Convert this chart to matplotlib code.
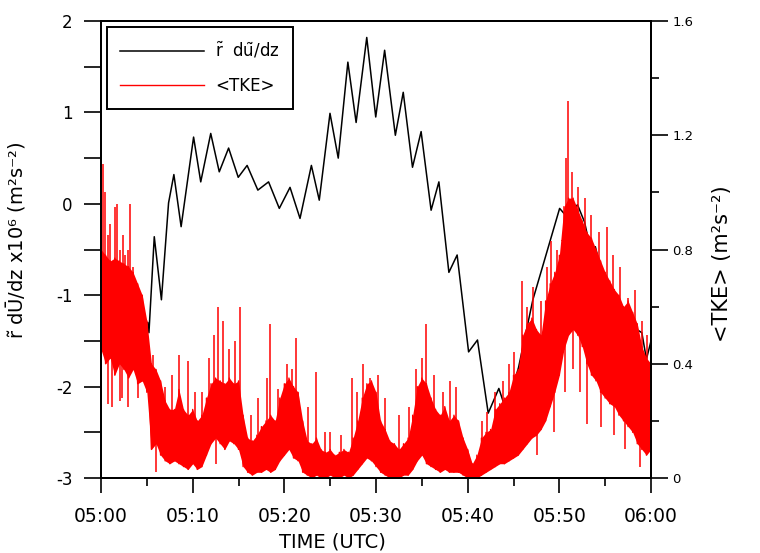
import numpy as np
import matplotlib.pyplot as plt
from matplotlib.ticker import MultipleLocator, FuncFormatter

plt.rcParams['font.family'] = ['DejaVu Sans']
plt.rcParams['mathtext.fontset'] = 'dejavusans'
plt.rcParams['axes.unicode_minus'] = False

# minutes after 05:00 UTC
shear_t = [5.1, 5.23, 5.81, 6.59, 7.37, 7.95, 8.74, 10.10, 10.88, 11.97, 12.90, 13.92,
           14.97, 15.94, 17.11, 18.28, 19.45, 20.62, 21.71, 22.95, 23.81, 24.98, 25.88,
           26.93, 27.83, 28.99, 29.97, 30.94, 32.11, 32.97, 33.98, 34.92, 36.01, 36.86,
           37.95, 38.85, 40.10, 41.07, 42.24, 43.40, 44.19, 45.55, 47.11, 48.28, 50.03,
           50.81, 51.98, 52.75, 53.34, 53.93, 54.90, 56.07, 57.24, 58.21, 59.0, 59.5, 60.0]
shear_v = [-1.30, -1.41, -0.36, -1.05, 0.01, 0.32, -0.25, 0.73, 0.24, 0.77, 0.35, 0.61,
           0.29, 0.42, 0.15, 0.24, -0.05, 0.18, -0.16, 0.42, 0.04, 0.99, 0.50,
           1.55, 0.89, 1.82, 0.95, 1.68, 0.75, 1.22, 0.40, 0.79, -0.07, 0.24,
           -0.75, -0.56, -1.62, -1.49, -2.29, -2.02, -2.26, -1.79, -1.05, -0.65, -0.05,
           -0.14, -0.01, -0.20, -0.47, -0.47, -0.87, -1.09, -1.63, -1.36, -1.41, -1.70, -1.50]

# TKE band read every half minute: upper and lower edge of the noisy trace
tke_t = np.arange(0, 60.5, 0.5)
tke_high = [0.80, 0.78, 0.76, 0.77, 0.76, 0.75, 0.74, 0.72, 0.68, 0.64,
            0.55, 0.40, 0.38, 0.34, 0.27, 0.24, 0.24, 0.31, 0.24, 0.22,
            0.24, 0.20, 0.22, 0.28, 0.33, 0.35, 0.34, 0.33, 0.35, 0.33,
            0.34, 0.22, 0.14, 0.13, 0.15, 0.18, 0.20, 0.22, 0.20, 0.28,
            0.33, 0.35, 0.32, 0.30, 0.20, 0.13, 0.12, 0.14, 0.10, 0.09,
            0.10, 0.08, 0.09, 0.10, 0.09, 0.14, 0.20, 0.28, 0.33, 0.34,
            0.30, 0.20, 0.17, 0.13, 0.12, 0.10, 0.12, 0.14, 0.22, 0.32,
            0.35, 0.33, 0.28, 0.24, 0.22, 0.25, 0.20, 0.22, 0.20, 0.14,
            0.10, 0.05, 0.08, 0.14, 0.16, 0.17, 0.24, 0.26, 0.28, 0.30,
            0.36, 0.38, 0.50, 0.54, 0.56, 0.52, 0.50, 0.62, 0.68, 0.72,
            0.78, 0.95, 0.98, 0.98, 0.94, 0.90, 0.86, 0.84, 0.80, 0.76,
            0.72, 0.69, 0.66, 0.64, 0.60, 0.62, 0.58, 0.54, 0.46, 0.42,
            0.40]
tke_low = [0.45, 0.40, 0.42, 0.36, 0.40, 0.38, 0.35, 0.38, 0.33, 0.34,
           0.30, 0.10, 0.12, 0.08, 0.06, 0.05, 0.06, 0.05, 0.04, 0.03,
           0.05, 0.03, 0.04, 0.08, 0.12, 0.14, 0.12, 0.10, 0.13, 0.12,
           0.10, 0.04, 0.02, 0.01, 0.02, 0.02, 0.03, 0.02, 0.03, 0.06,
           0.08, 0.10, 0.07, 0.06, 0.02, 0.01, 0.00, 0.01, 0.00, 0.00,
           0.01, 0.00, 0.00, 0.01, 0.00, 0.01, 0.03, 0.05, 0.07, 0.06,
           0.04, 0.02, 0.01, 0.00, 0.00, 0.00, 0.01, 0.01, 0.03, 0.06,
           0.08, 0.05, 0.04, 0.03, 0.02, 0.03, 0.02, 0.02, 0.02, 0.01,
           0.00, 0.00, 0.00, 0.01, 0.02, 0.03, 0.04, 0.05, 0.05, 0.06,
           0.07, 0.08, 0.10, 0.12, 0.14, 0.15, 0.17, 0.20, 0.25, 0.30,
           0.36, 0.45, 0.50, 0.52, 0.50, 0.46, 0.40, 0.36, 0.34, 0.30,
           0.28, 0.26, 0.25, 0.22, 0.20, 0.18, 0.16, 0.12, 0.10, 0.08,
           0.10]
# isolated upward spikes of the trace (time, value)
spike_t = [0.2, 0.44, 0.76, 0.98, 1.31, 1.53, 1.75, 2.07, 2.4, 2.62, 2.95, 3.16, 3.49,
           3.93, 4.25, 5.7, 6.2, 7.0, 7.7, 8.5, 9.5, 10.2, 11.0, 11.8, 12.3, 12.8, 13.3,
           14.0, 14.6, 15.2, 16.4, 17.1, 18.1, 18.4, 19.3, 20.3, 20.8, 21.3, 22.6, 23.5,
           24.4, 25.0, 26.2, 27.4, 27.9, 28.6, 29.3, 30.2, 31.0, 32.5, 33.6, 34.4, 35.0,
           35.5, 36.3, 37.3, 38.1, 38.7, 41.6, 42.1, 43.0, 43.8, 44.5, 45.0, 45.9, 46.5,
           47.1, 48.0, 48.6, 49.1, 49.7, 50.3, 50.7, 50.9, 51.4, 52.0, 52.8, 53.5, 54.3,
           55.2, 55.9, 56.6, 57.5, 58.3, 59.0, 59.6]
spike_v = [1.10, 1.00, 0.85, 0.89, 0.75, 0.95, 0.96, 0.80, 0.85, 0.78, 0.80, 0.96, 0.74,
           0.66, 0.62, 0.43, 0.35, 0.32, 0.36, 0.43, 0.41, 0.30, 0.30, 0.42, 0.50, 0.60, 0.55,
           0.45, 0.48, 0.60, 0.22, 0.28, 0.35, 0.54, 0.31, 0.40, 0.38, 0.49, 0.25, 0.37,
           0.16, 0.16, 0.15, 0.35, 0.30, 0.40, 0.35, 0.36, 0.28, 0.22, 0.25, 0.38, 0.42,
           0.54, 0.36, 0.30, 0.34, 0.32, 0.20, 0.23, 0.30, 0.34, 0.40, 0.44, 0.69, 0.60,
           0.67, 0.62, 0.74, 0.83, 0.80, 0.83, 1.12, 1.32, 1.07, 1.02, 0.98, 0.92, 0.86,
           0.88, 0.78, 0.74, 0.63, 0.66, 0.55, 0.50]
dip_t = [0.76, 1.2, 2.07, 2.3, 2.95, 4.04, 6.0, 12.5, 47.6, 49.4, 50.6, 51.5, 52.2, 53.0,
         54.5, 56.0, 57.2, 58.8]
dip_v = [0.26, 0.25, 0.27, 0.28, 0.25, 0.28, 0.02, 0.05, 0.08, 0.16, 0.30, 0.38, 0.30, 0.19,
         0.18, 0.15, 0.10, 0.04]

fig = plt.figure(figsize=(7.6, 5.53), dpi=100)
ax = fig.add_axes([0.1329, 0.1356, 0.7237, 0.8264])
ax2 = ax.twinx()

ax.plot(shear_t, shear_v, color='black', lw=1.1,
        label=r'$\tilde{\mathrm{r}}$  d$\tilde{\mathrm{u}}$/dz')

# noisy TKE trace: dense band between the edges plus the spikes
ax2.fill_between(tke_t, tke_low, tke_high, color='red', lw=0)
zx = np.repeat(tke_t, 2)
zy = np.column_stack([tke_low, tke_high]).ravel()
ax2.plot(zx, zy, color='red', lw=1.0, label='<TKE>')
ax2.vlines(spike_t, np.interp(spike_t, tke_t, tke_high) - 0.05, spike_v, color='red', lw=1.1)
ax2.vlines(dip_t, dip_v, np.interp(dip_t, tke_t, tke_low) + 0.05, color='red', lw=1.1)

ax.set_xlim(0, 60)
ax.set_ylim(-3, 2)
ax2.set_ylim(0, 1.6)

ax.set_xticks(range(0, 61, 10))
ax.set_xticklabels(['05:00', '05:10', '05:20', '05:30', '05:40', '05:50', '06:00'])
ax.xaxis.set_minor_locator(MultipleLocator(5))
ax.yaxis.set_major_locator(MultipleLocator(1))
ax.yaxis.set_minor_locator(MultipleLocator(0.5))
ax2.yaxis.set_major_locator(MultipleLocator(0.4))
ax2.yaxis.set_minor_locator(MultipleLocator(0.2))
ax2.yaxis.set_major_formatter(FuncFormatter(lambda v, p: '0' if abs(v) < 1e-9 else f'{v:.1f}'))

for a in (ax, ax2):
    for s in a.spines.values():
        s.set_linewidth(1.4)
ax.tick_params(axis='x', which='major', direction='out', length=11, width=1.2, labelsize=13.5, pad=10)
ax.tick_params(axis='x', which='minor', direction='out', length=6, width=1.2)
ax.tick_params(axis='y', which='both', direction='out', length=12.5, width=1.2, labelsize=12, pad=8)
ax2.tick_params(axis='y', which='major', direction='out', length=12.5, width=1.2, labelsize=9.5, pad=3)
ax2.tick_params(axis='y', which='minor', direction='out', length=6, width=1.2)

ax.set_xlabel('TIME (UTC)', fontsize=14)
ax.xaxis.set_label_coords(0.42, -0.12)
ax.set_ylabel(r'$\tilde{\mathrm{r}}$ d$\bar{\mathrm{U}}$/dz x10⁶ (m²s⁻²)', fontsize=14)
ax.yaxis.set_label_coords(-0.133, 0.52)
ax2.set_ylabel('<TKE> (m²s⁻²)', fontsize=15, rotation=90)
ax2.yaxis.set_label_coords(1.111, 0.47)

h1, l1 = ax.get_legend_handles_labels()
h2, l2 = ax2.get_legend_handles_labels()
leg = ax2.legend(h1 + h2, l1 + l2, loc='upper left', bbox_to_anchor=(0.011, 0.987),
                 borderaxespad=0, fancybox=False, edgecolor='black', framealpha=1,
                 fontsize=12, handlelength=5.0, handletextpad=0.7, labelspacing=1.0,
                 borderpad=0.8)
leg.get_frame().set_linewidth(1.4)

fig.savefig('out.png', dpi=100)
